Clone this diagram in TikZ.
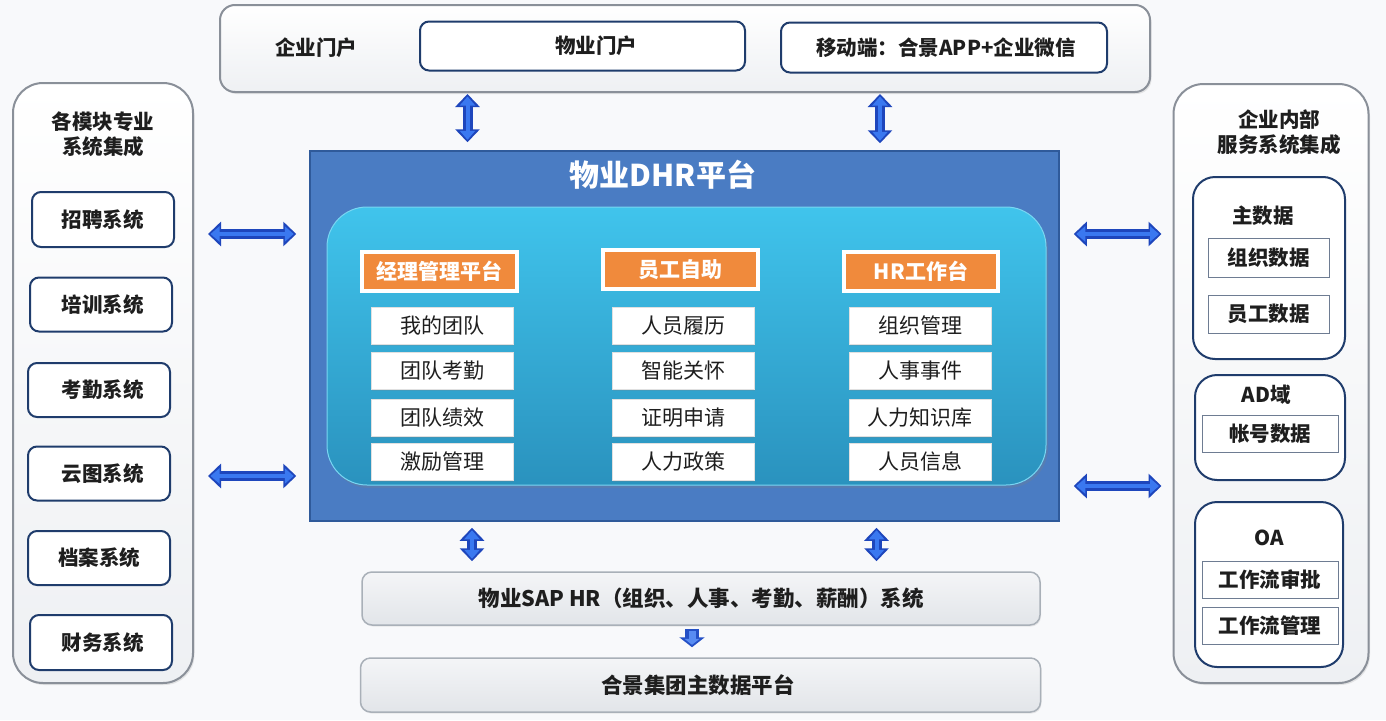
\documentclass[tikz,border=0pt]{standalone}
\usepackage{fontspec}
\setmainfont{Noto Sans CJK SC}
\usetikzlibrary{arrows.meta,shadows}
\definecolor{bg}{HTML}{F8F9FB}
\definecolor{panelgray}{HTML}{8A9099}
\definecolor{panelbot}{HTML}{EEF0F3}
\definecolor{navy}{HTML}{1F3C6C}
\definecolor{sqgray}{HTML}{6E7C92}
\definecolor{dhrblue}{HTML}{4A7CC3}
\definecolor{dhrline}{HTML}{2F5A9A}
\definecolor{cyantop}{HTML}{40C4EC}
\definecolor{cyanbot}{HTML}{2A92BE}
\definecolor{orng}{HTML}{F08A3C}
\definecolor{txt}{HTML}{1E1E1E}
\definecolor{bargray}{HTML}{A9B0B8}
\definecolor{bartop}{HTML}{F4F5F7}
\definecolor{barbot}{HTML}{E2E5E9}
\definecolor{arrdark}{HTML}{1E46BC}
\definecolor{arrlight}{HTML}{3A78F0}
\newcommand{\labfont}{\fontsize{20.5}{25}\selectfont\bfseries}
\newcommand{\itemfont}{\fontsize{21}{25}\selectfont}
\newcommand{\hdrfont}{\fontsize{21}{25}\selectfont\bfseries}
\newcommand{\titlefont}{\fontsize{30}{34}\selectfont\bfseries}
% two-tone block arrow: #1 style prefix, #2 from, #3 to, #4/#5 shortening
\newcommand{\blockarrow}[5]{%
  \draw[#1out, shorten <=#4, shorten >=#5] #2 -- #3;
  \draw[#1in, shorten <=#4+2.5pt, shorten >=#5+2.5pt] #2 -- #3;}
\tikzset{
  panel/.style={draw=panelgray, line width=2pt, top color=white, bottom color=panelbot, rounded corners=#1,
    drop shadow={opacity=0.18, shadow xshift=1.5pt, shadow yshift=-2pt}},
  panel/.default=15pt,
  navybox/.style={draw=navy, line width=2pt, fill=white, rounded corners=9pt},
  grp/.style={draw=navy, line width=2pt, fill=white, rounded corners=22pt},
  sqbox/.style={draw=sqgray, line width=1pt, fill=white, font=\labfont, text=txt},
  hdr/.style={fill=orng, draw=white, line width=4pt, text=white, font=\hdrfont,
    drop shadow={opacity=0.25, shadow xshift=1pt, shadow yshift=-1.5pt}},
  item/.style={fill=white, draw=black!12, line width=0.5pt, font=\itemfont, text=txt,
    drop shadow={opacity=0.2, shadow xshift=1pt, shadow yshift=-1.5pt}},
  bar/.style={draw=bargray, line width=1.5pt, top color=bartop, bottom color=barbot, rounded corners=10pt,
    drop shadow={opacity=0.15, shadow xshift=1pt, shadow yshift=-1.5pt}},
  lab/.style={font=\labfont, text=txt, inner sep=0pt, align=center},
  dblout/.style={draw=arrdark, line width=10pt,
    {Triangle[length=13pt,width=24pt]}-{Triangle[length=13pt,width=24pt]}},
  dblin/.style={draw=arrlight, line width=4pt,
    {Triangle[length=9pt,width=15pt]}-{Triangle[length=9pt,width=15pt]}},
  oneout/.style={draw=arrdark!80!arrlight, line width=14pt, -{Triangle[length=10pt,width=25pt]}},
  onein/.style={draw=arrlight!85!white, line width=7pt, -{Triangle[length=6pt,width=15pt]}},
}
\begin{document}
\begin{tikzpicture}[x=1pt,y=-1pt]
\path[fill=bg] (0,0) rectangle (1386,720);
\useasboundingbox (0,0) rectangle (1386,720);

% ---------- top bar ----------
\node[panel, minimum width=930pt, minimum height=87pt] (top) at (685,48.5) {};
\node[lab] (qymh) at (316,48) {企业门户};
\node[navybox, minimum width=325pt, minimum height=49pt] (wymh) at (582.5,46) {};
\node[lab] (wymht) at (596,46) {物业门户};
\node[navybox, minimum width=326pt, minimum height=50pt] (mob) at (944,47.5) {};
\node[lab] (mobt) at (946,47.5) {移动端：合景APP+企业微信};

% ---------- left panel ----------
\node[panel=30pt, minimum width=180pt, minimum height=600pt] (lp) at (103,383) {};
\node[lab] (lpt) at (103,134.5) {各模块专业\\系统集成};
\node[navybox, minimum width=142pt, minimum height=55pt] (l1) at (103,219.5) {};
\node[lab] at (102.5,219.5) {招聘系统};
\node[navybox, minimum width=142pt, minimum height=54pt] (l2) at (101,304.5) {};
\node[lab] at (102.5,304.5) {培训系统};
\node[navybox, minimum width=142pt, minimum height=54pt] (l3) at (99,390) {};
\node[lab] at (102.5,390) {考勤系统};
\node[navybox, minimum width=142pt, minimum height=54pt] (l4) at (99,473.5) {};
\node[lab] at (102.5,473.5) {云图系统};
\node[navybox, minimum width=142pt, minimum height=54pt] (l5) at (99,558) {};
\node[lab] at (99,558) {档案系统};
\node[navybox, minimum width=142pt, minimum height=55pt] (l6) at (101,642.5) {};
\node[lab] at (102.5,642.5) {财务系统};

% ---------- right panel ----------
\node[panel=30pt, minimum width=195pt, minimum height=599pt] (rp) at (1271,383.5) {};
\node[lab] (rpt) at (1279,132.5) {企业内部\\服务系统集成};
\node[grp, minimum width=152pt, minimum height=182pt] (g1) at (1269,268) {};
\node[lab] at (1263,216) {主数据};
\node[sqbox, minimum width=121pt, minimum height=39pt] (zz) at (1268.5,257.5) {组织数据};
\node[sqbox, minimum width=121pt, minimum height=38pt] (yg) at (1268.5,314) {员工数据};
\node[grp, minimum width=150pt, minimum height=105pt] (g2) at (1270,427.5) {};
\node[lab] at (1266,395) {AD域};
\node[sqbox, minimum width=136pt, minimum height=37pt] (zh) at (1270,433.5) {帐号数据};
\node[grp, minimum width=148pt, minimum height=165pt] (g3) at (1269,584.5) {};
\node[lab] at (1269,538) {OA};
\node[sqbox, minimum width=136pt, minimum height=37pt] (sp) at (1270,579.5) {工作流审批};
\node[sqbox, minimum width=136pt, minimum height=37pt] (gl) at (1270,625.5) {工作流管理};

% ---------- DHR platform ----------
\node[fill=dhrblue, draw=dhrline, line width=1.5pt, minimum width=749pt, minimum height=370pt] (dhr) at (684.5,336) {};
\node[font=\titlefont, text=white, inner sep=0pt] (dhrt) at (663,175) {物业DHR平台};
\node[top color=cyantop, bottom color=cyanbot, draw=cyantop!70!white, line width=1pt, rounded corners=40pt,
  minimum width=719pt, minimum height=278pt,
  drop shadow={opacity=0.25, shadow xshift=2pt, shadow yshift=-3pt}] (cy) at (686.5,346) {};

\node[hdr, minimum width=155pt, minimum height=39pt] (h1) at (439.5,271.5) {经理管理平台};
\node[hdr, minimum width=155pt, minimum height=39pt] (h2) at (680.5,269.5) {员工自助};
\node[hdr, minimum width=154pt, minimum height=39pt] (h3) at (921,271.5) {HR工作台};

\node[item, minimum width=142pt, minimum height=37pt] (a1) at (442,325.5) {我的团队};
\node[item, minimum width=142pt, minimum height=37pt] (a2) at (442,370.5) {团队考勤};
\node[item, minimum width=142pt, minimum height=37pt] (a3) at (442,417.5) {团队绩效};
\node[item, minimum width=142pt, minimum height=37pt] (a4) at (442,461.5) {激励管理};
\node[item, minimum width=142pt, minimum height=37pt] (b1) at (683,325.5) {人员履历};
\node[item, minimum width=142pt, minimum height=37pt] (b2) at (683,370.5) {智能关怀};
\node[item, minimum width=142pt, minimum height=37pt] (b3) at (683,417.5) {证明申请};
\node[item, minimum width=142pt, minimum height=37pt] (b4) at (683,461.5) {人力政策};
\node[item, minimum width=142pt, minimum height=37pt] (c1) at (920,325.5) {组织管理};
\node[item, minimum width=142pt, minimum height=37pt] (c2) at (920,370.5) {人事事件};
\node[item, minimum width=142pt, minimum height=37pt] (c3) at (920,417.5) {人力知识库};
\node[item, minimum width=142pt, minimum height=37pt] (c4) at (920,461.5) {人员信息};

% ---------- bottom bars ----------
\node[bar, minimum width=678pt, minimum height=53pt] (sap) at (701,598.5) {};
\node[lab, font=\fontsize{21.5}{25}\selectfont\bfseries] at (701,598.5) {物业SAP HR（组织、人事、考勤、薪酬）系统};
\node[bar, minimum width=680pt, minimum height=54pt] (md) at (700.5,685) {};
\node[lab, font=\fontsize{21.5}{25}\selectfont\bfseries] at (698,685) {合景集团主数据平台};

% ---------- connectors ----------
\blockarrow{dbl}{(top.south -| 467.5,0)}{(dhr.north -| 467.5,0)}{1pt}{8pt}
\blockarrow{dbl}{(top.south -| 880,0)}{(dhr.north -| 880,0)}{1pt}{7pt}
\blockarrow{dbl}{(lp.east |- 0,234)}{(dhr.west |- 0,234)}{14pt}{13pt}
\blockarrow{dbl}{(lp.east |- 0,476)}{(dhr.west |- 0,476)}{14pt}{13pt}
\blockarrow{dbl}{(dhr.east |- 0,234)}{(rp.west |- 0,234)}{14pt}{11pt}
\blockarrow{dbl}{(dhr.east |- 0,486)}{(rp.west |- 0,486)}{14pt}{11pt}
\blockarrow{dbl}{(dhr.south -| 472,0)}{(sap.north -| 472,0)}{6pt}{10pt}
\blockarrow{dbl}{(dhr.south -| 876.5,0)}{(sap.north -| 876.5,0)}{6pt}{10pt}
\blockarrow{one}{(sap.south -| 692,0)}{(md.north -| 692,0)}{3pt}{10pt}
\end{tikzpicture}
\end{document}
